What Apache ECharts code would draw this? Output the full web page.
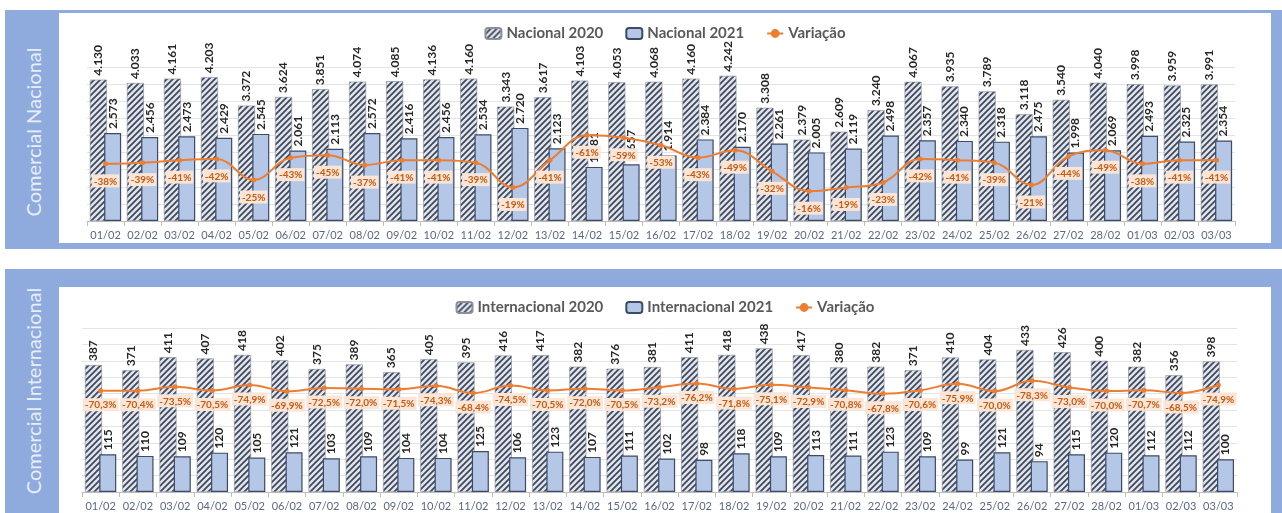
<!DOCTYPE html>
<html>
<head>
<meta charset="utf-8">
<title>Comercial Nacional / Internacional</title>
<script src="https://cdn.jsdelivr.net/npm/echarts@6/dist/echarts.min.js"></script>
<style>
    body { margin: 0; width: 1282px; height: 513px; overflow: hidden; position: relative; background: #fff; font-family: Lato, "Open Sans", sans-serif; }
    .frame { position: absolute; left: 5px; width: 1277px; background: #8faadc; }
    .side { position: absolute; left: 33px; white-space: nowrap; color: #e8eef9; font-size: 20px; font-weight: 400; transform: translate(-50%, -50%) rotate(-90deg); }
    .chart { position: absolute; left: 59px; width: 1212px; background: #fff; }
</style>
</head>
<body>
<div class="frame" style="top:10px;height:239px"></div>
<div class="frame" style="top:269px;height:250px"></div>
<div class="side" style="top:132px">Comercial Nacional</div>
<div class="side" style="top:391px">Comercial Internacional</div>
<div id="chartNac" class="chart" style="top:13px;height:230px"></div>
<div id="chartInt" class="chart" style="top:287px;height:226px"></div>
<script>
var days = ['01/02', '02/02', '03/02', '04/02', '05/02', '06/02', '07/02', '08/02', '09/02', '10/02',
    '11/02', '12/02', '13/02', '14/02', '15/02', '16/02', '17/02', '18/02', '19/02', '20/02',
    '21/02', '22/02', '23/02', '24/02', '25/02', '26/02', '27/02', '28/02', '01/03', '02/03', '03/03'];

var nacional2020 = [4130, 4033, 4161, 4203, 3372, 3624, 3851, 4074, 4085, 4136,
    4160, 3343, 3617, 4103, 4053, 4068, 4160, 4242, 3308, 2379,
    2609, 3240, 4067, 3935, 3789, 3118, 3540, 4040, 3998, 3959, 3991];
var nacional2021 = [2573, 2456, 2473, 2429, 2545, 2061, 2113, 2572, 2416, 2456,
    2534, 2720, 2123, 1581, 1657, 1914, 2384, 2170, 2261, 2005,
    2119, 2498, 2357, 2340, 2318, 2475, 1998, 2069, 2493, 2325, 2354];
var variacaoNacional = [-38, -39, -41, -42, -25, -43, -45, -37, -41, -41,
    -39, -19, -41, -61, -59, -53, -43, -49, -32, -16,
    -19, -23, -42, -41, -39, -21, -44, -49, -38, -41, -41];

var internacional2020 = [387, 371, 411, 407, 418, 402, 375, 389, 365, 405,
    395, 416, 417, 382, 376, 381, 411, 418, 438, 417,
    380, 382, 371, 410, 404, 433, 426, 400, 382, 356, 398];
var internacional2021 = [115, 110, 109, 120, 105, 121, 103, 109, 104, 104,
    125, 106, 123, 107, 111, 102, 98, 118, 109, 113,
    111, 123, 109, 99, 121, 94, 115, 120, 112, 112, 100];
var variacaoInternacional = [-70.3, -70.4, -73.5, -70.5, -74.9, -69.9, -72.5, -72.0, -71.5, -74.3,
    -68.4, -74.5, -70.5, -72.0, -70.5, -73.2, -76.2, -71.8, -75.1, -72.9,
    -70.8, -67.8, -70.6, -75.9, -70.0, -78.3, -73.0, -70.0, -70.7, -68.5, -74.9];

(function (window, echarts) {
    // hatched fill for the 2020 bars
    function hatch() {
        var s = 6, c = document.createElement('canvas');
        c.width = c.height = s;
        var ctx = c.getContext('2d');
        ctx.fillStyle = '#e2e5ea';
        ctx.fillRect(0, 0, s, s);
        ctx.strokeStyle = '#3e4a60';
        ctx.lineWidth = 1.8;
        ctx.beginPath();
        ctx.moveTo(0, s); ctx.lineTo(s, 0);
        ctx.moveTo(-s / 2, s / 2); ctx.lineTo(s / 2, -s / 2);
        ctx.moveTo(s / 2, s + s / 2); ctx.lineTo(s + s / 2, s / 2);
        ctx.stroke();
        return { image: c, repeat: 'repeat' };
    }

    function thousands(v) {
        return String(v).replace(/\B(?=(\d{3})+(?!\d))/g, '.');
    }

    function buildOption(cfg) {
        var barLabel = {
            show: true,
            position: 'top',
            rotate: 90,
            align: 'left',
            verticalAlign: 'middle',
            distance: 4,
            fontSize: 12,
            fontWeight: 'bold',
            color: '#262626',
            formatter: function (p) { return thousands(p.value); }
        };

        return {
            animation: false,
            textStyle: { fontFamily: 'Lato, "Open Sans", sans-serif' },
            legend: {
                top: 8,
                left: 'center',
                itemWidth: 16,
                itemHeight: 11,
                itemGap: 22,
                textStyle: { fontSize: 15, fontWeight: 'bold', color: '#595959' },
                data: cfg.names
            },
            grid: cfg.grid,
            xAxis: {
                type: 'category',
                data: days,
                axisLine: { lineStyle: { color: '#bfbfbf' } },
                axisTick: { show: true, length: 5, lineStyle: { color: '#bfbfbf' } },
                axisLabel: { interval: 0, fontSize: 11, color: '#5a6880', margin: 9 }
            },
            yAxis: [
                {
                    type: 'value',
                    min: 0,
                    max: cfg.max,
                    interval: cfg.interval,
                    axisLabel: { show: false },
                    axisLine: { show: false },
                    axisTick: { show: false },
                    splitLine: { lineStyle: { color: '#e4e4e4' } }
                },
                {
                    type: 'value',
                    inverse: true,
                    min: cfg.varMin,
                    max: cfg.varMax,
                    show: false,
                    splitLine: { show: false }
                }
            ],
            series: [
                {
                    name: cfg.names[0],
                    type: 'bar',
                    data: cfg.bars2020,
                    barWidth: 17,
                    barGap: '-16%',
                    itemStyle: { color: hatch(), borderColor: '#8a8f99', borderWidth: 0.6 },
                    label: barLabel,
                    z: 2
                },
                {
                    name: cfg.names[1],
                    type: 'bar',
                    data: cfg.bars2021,
                    barWidth: 17,
                    itemStyle: { color: '#b4c7e7', borderColor: '#3d4b66', borderWidth: 1.2 },
                    label: barLabel,
                    z: 3
                },
                {
                    name: cfg.names[2],
                    type: 'line',
                    yAxisIndex: 1,
                    data: cfg.variacao,
                    smooth: 0.4,
                    symbol: 'circle',
                    symbolSize: 5,
                    lineStyle: { color: '#ed7d31', width: 2 },
                    itemStyle: { color: '#ed7d31' },
                    label: {
                        show: true,
                        position: 'bottom',
                        distance: cfg.labelDistance,
                        backgroundColor: '#fbe5d6',
                        padding: [2, 2, 1, 2],
                        fontSize: 10,
                        fontWeight: 'bold',
                        color: '#c55a11',
                        formatter: function (p) { return cfg.pct(p.value); }
                    },
                    z: 5
                }
            ]
        };
    }

    var nac = echarts.init(document.getElementById('chartNac'));
    nac.setOption(buildOption({
        names: ['Nacional 2020', 'Nacional 2021', 'Variação'],
        bars2020: nacional2020,
        bars2021: nacional2021,
        variacao: variacaoNacional,
        grid: { left: 28, right: 36, top: 54, bottom: 22 },
        max: 4500,
        interval: 500,
        varMin: -116,
        varMax: 8,
        labelDistance: 8,
        pct: function (v) { return v + '%'; }
    }));

    var int = echarts.init(document.getElementById('chartInt'));
    int.setOption(buildOption({
        names: ['Internacional 2020', 'Internacional 2021', 'Variação'],
        bars2020: internacional2020,
        bars2021: internacional2021,
        variacao: variacaoInternacional,
        grid: { left: 23, right: 34, top: 41, bottom: 21 },
        max: 500,
        interval: 50,
        varMin: -121,
        varMax: 11.5,
        labelDistance: 5,
        pct: function (v) { return v.toFixed(1).replace('.', ',') + '%'; }
    }));
})(window, echarts);
</script>
</body>
</html>
